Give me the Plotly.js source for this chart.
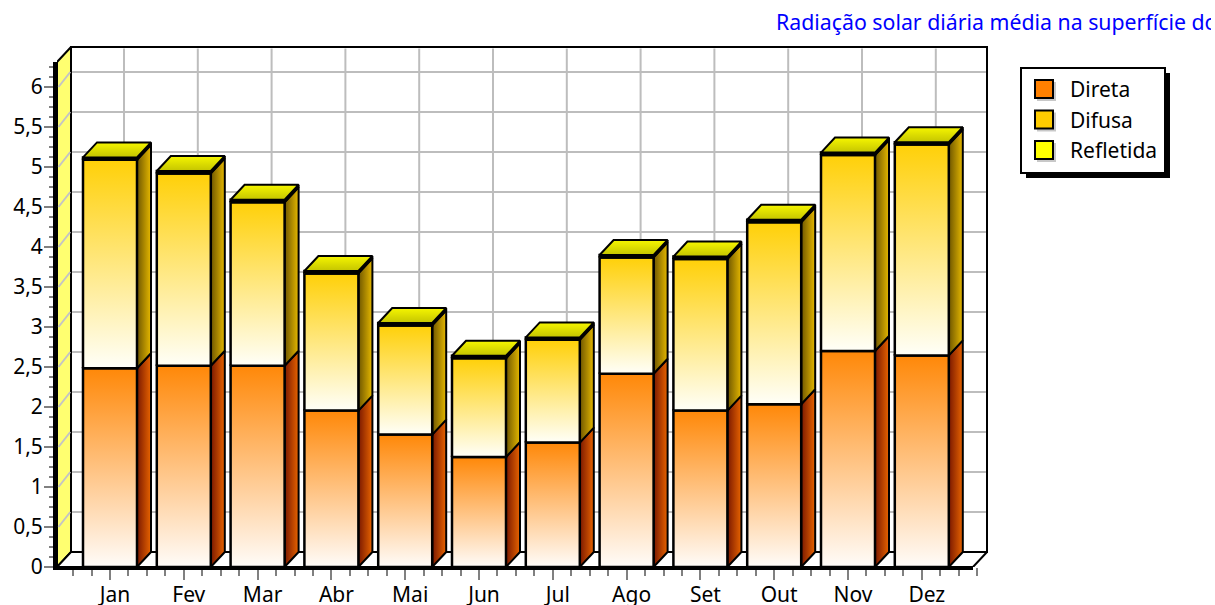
<!DOCTYPE html>
<html><head><meta charset="utf-8">
<script src="https://cdn.plot.ly/plotly-3.0.1.min.js"></script>
<style>html,body{margin:0;padding:0;background:#fff;overflow:hidden}#chart{width:1211px;height:605px;overflow:hidden}</style>
</head><body><div id="chart"></div>
<script>
const months = ['Jan','Fev','Mar','Abr','Mai','Jun','Jul','Ago','Set','Out','Nov','Dez'];
const direta    = [2.485,2.515,2.515,1.955,1.655,1.375,1.555,2.415,1.955,2.035,2.70,2.645];
const difusa    = [2.605,2.405,2.045,1.715,1.365,1.235,1.285,1.455,1.895,2.275,2.45,2.635];
const refletida = [0.03,0.03,0.03,0.03,0.03,0.03,0.03,0.03,0.03,0.03,0.03,0.03];
const yTickVals   = [0,0.5,1,1.5,2,2.5,3,3.5,4,4.5,5,5.5,6];
const yTickLabels = ['0','0,5','1','1,5','2','2,5','3','3,5','4','4,5','5','5,5','6'];
const titleText = 'Radiação solar diária média na superfície do';

// pseudo-3D geometry, in axis units
const PXX = 73.8, PXY = 80;
const DX = 14/PXX, DY = 15/PXY, HW = 27/PXX;
const X0 = -53/PXX, X1 = X0 + 916/PXX, YTOP = 6.3125;
const xRange = [X0, X0 + 933/PXX], yRange = [0, 523/PXY];

const faces = {
  direta:    {front:['#fffcf9','#ff8808'], side:['#7a1800','#e86400']},
  difusa:    {front:['#fffff8','#ffd008'], side:['#6e5600','#e6b800']},
  refletida: {front:['#ffff00','#ffff00'], side:['#7a7a00','#e6e600']}
};
const top0 = ['#c4c400','#f6f600'];

const traces = [];
function poly(x,y,fill,lw,grad){
  const t = {x:x.concat(x[0]),y:y.concat(y[0]),mode:'lines',fill:'toself',showlegend:false,hoverinfo:'skip',
    line:{color:'#000',width:lw}};
  if(grad){t.fillgradient={type:grad.type,colorscale:[[0,grad.c[0]],[1,grad.c[1]]]};t.fillcolor=grad.c[1];}
  else t.fillcolor=fill;
  traces.push(t);
}
function line(x,y,c,w){traces.push({x,y,mode:'lines',showlegend:false,hoverinfo:'skip',line:{color:c,width:w}});}

// walls and floor
poly([X0+DX,X1+DX,X1+DX,X0+DX],[DY,DY,YTOP+DY,YTOP+DY],'#fff',2);
poly([X0,X0+DX,X0+DX,X0],[0,DY,YTOP+DY,YTOP],'#ffff70',2);
poly([X0,X0+DX,X1+DX,X1],[0,DY,DY,0],'#fff',2);
yTickVals.slice(1).forEach(v=>{
  line([X0+DX+0.015,X1+DX-0.015],[v+DY,v+DY],'#bdbdbd',2);
  line([X0+0.02,X0+DX-0.01],[v,v+DY],'#c4c4c4',2);
});
months.forEach((m,i)=>line([i+DX,i+DX],[DY+0.02,YTOP+DY-0.02],'#bdbdbd',2));

// stacked boxes
months.forEach((m,i)=>{
  let base = 0;
  [['direta',direta[i]],['difusa',difusa[i]],['refletida',refletida[i]]].forEach(([k,v])=>{
    const a=i-HW, b=i+HW, t=base+v;
    poly([b,b+DX,b+DX,b],[base,base+DY,t+DY,t],null,2,{type:'horizontal',c:[faces[k].side[0],faces[k].side[1]]});
    poly([a,b,b,a],[base,base,t,t],null,2.5,{type:'vertical',c:[faces[k].front[0],faces[k].front[1]]});
    base = t;
  });
  poly([i-HW,i+HW,i+HW+DX,i-HW+DX],[base,base,base+DY,base+DY],null,2,{type:'vertical',c:top0});
});

// legend entries: text from the legend, swatches drawn beneath it
const legendNames = ['Direta','Difusa','Refletida'];
const legendColors = ['#ff8000','#ffcc00','#ffff00'];
legendNames.forEach(n=>{
  traces.push({x:[null],y:[null],type:'scatter',mode:'markers',name:n,hoverinfo:'skip',
    marker:{symbol:'square',size:10,color:'rgba(0,0,0,0)',line:{width:0}}});
});

const px = x => (x-57)/933, py = y => (567-y)/523;
const rect = (x0,y0,x1,y1,fill,lc,lw) => ({type:'rect',xref:'paper',yref:'paper',layer:'above',
  x0:px(x0),x1:px(x1),y0:py(y0),y1:py(y1),fillcolor:fill,line:{color:lc||fill,width:lw||0}});
const shapes = [
  rect(53,62,57,570,'#000'),
  rect(53,566,973,570,'#000'),
  rect(1026,73,1170,178,'#000'),
  rect(1021,68,1165,173,'#fff','#000',2)
];
[80,110.5,141].forEach((y,i)=>{
  shapes.push(rect(1037,y+2,1056,y+21,'#c8c8c8'));
  shapes.push(rect(1035,y,1053,y+18,legendColors[i],'#000',2));
});
function range(a,b,s){const r=[];for(let v=a;v<=b+1e-9;v+=s)r.push(v);return r;}
const font = {family:'"Noto Sans",sans-serif',size:21,color:'#000'};
const layout = {
  width:1215,height:605,paper_bgcolor:'#fff',plot_bgcolor:'#fff',
  margin:{l:57,r:225,t:44,b:38,pad:0},font,
  title:{text:titleText,font:{family:'"Noto Sans",sans-serif',size:21.3,color:'#0000ff'},
    x:px(776),xref:'paper',xanchor:'left',y:1-23/605,yanchor:'middle',automargin:false},
  xaxis:{range:xRange,showgrid:false,zeroline:false,showline:false,ticks:'outside',ticklen:12,tickwidth:2,tickcolor:'#808080',
    tickmode:'array',tickvals:months.map((m,i)=>i),ticktext:months,ticklabelshift:5,ticklabelstandoff:-3,tickfont:font,
    minor:{ticks:'outside',ticklen:8,tickwidth:2,tickcolor:'#808080',tickmode:'array',
      tickvals:range(-0.5,11.75,0.25).filter(v=>v%1!==0)},fixedrange:true},
  yaxis:{range:yRange,showgrid:false,zeroline:false,showline:false,ticks:'outside',ticklen:12,tickwidth:2,tickcolor:'#808080',
    tickmode:'array',tickvals:yTickVals,ticktext:yTickLabels,ticklabelstandoff:-3,tickfont:font,
    minor:{ticks:'outside',ticklen:7,tickwidth:2,tickcolor:'#808080',tickmode:'array',
      tickvals:range(0.125,6.25,0.125).filter(v=>v%0.5!==0)},fixedrange:true},
  legend:{x:px(1030),y:py(69),xanchor:'left',yanchor:'top',bgcolor:'rgba(0,0,0,0)',borderwidth:0,font,itemsizing:'constant',tracegroupgap:0,traceorder:'normal'},
  shapes,showlegend:true
};
Plotly.newPlot('chart',traces,layout,{displayModeBar:false,responsive:false});
</script></body></html>
